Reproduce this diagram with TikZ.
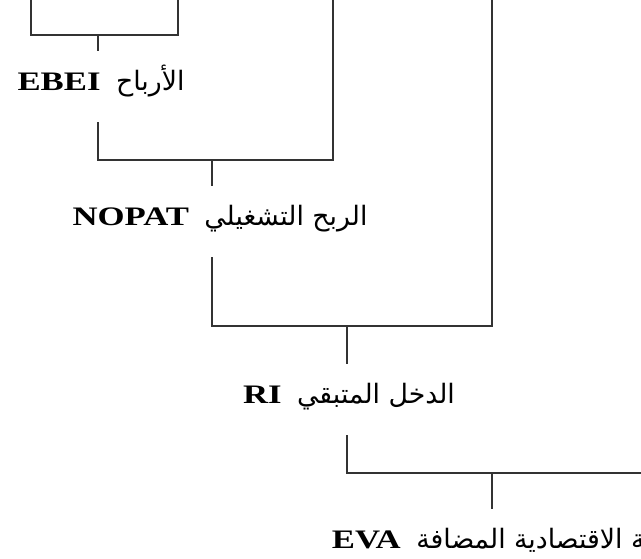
\documentclass[tikz,border=0pt]{standalone}
\usepackage{fontspec}
\setmainfont{Liberation Serif}[FakeStretch=1.3]
\newfontfamily\arabicfont[Script=Arabic]{DejaVu Sans}
\TeXXeTstate=1
\newcommand{\artxt}[1]{\hspace{11pt}{\arabicfont\mdseries\fontsize{19}{22}\selectfont\beginR #1\endR}}
\tikzset{
	bar/.style={black!80, line width=1.1pt},
	lbl/.style={inner xsep=0pt, inner ysep=0pt, text height=0.975cm, text depth=0.8cm, anchor=base, font=\fontsize{19}{22}\selectfont\bfseries}
}

\begin{document}
\begin{tikzpicture}[x=0.025cm, y=-0.025cm]
				\useasboundingbox (0,0) rectangle (641,559);
				% Free ends
				\coordinate (t1) at (31,0);
				\coordinate (t2) at (178,0);
				\coordinate (t3) at (333,0);
				\coordinate (t4) at (492,0);
				\coordinate (t5) at (641,473);
				% Joints
				\coordinate (j1) at (98,35);
				\coordinate (j2) at (212,160);
				\coordinate (j3) at (347,326);
				\coordinate (j4) at (492,473);
				% Labels
				\node[lbl] (ebei) at (101,90) {EBEI\artxt{الأرباح}};
				\node[lbl] (nopat) at (220,225) {NOPAT\artxt{الربح التشغيلي}};
				\node[lbl] (ri) at (349,403) {RI\artxt{الدخل المتبقي}};
				\node[lbl] (eva) at (515,548) {EVA\artxt{القيمة الاقتصادية المضافة}};
				% Brackets
				\draw[bar] (t1) |- (j1) -| (t2);
				\draw[bar] (j1) -- (j1 |- ebei.north);
				\draw[bar] (j1 |- ebei.south) |- (j2) -| (t3);
				\draw[bar] (j2) -- (j2 |- nopat.north);
				\draw[bar] (j2 |- nopat.south) |- (j3) -| (t4);
				\draw[bar] (j3) -- (j3 |- ri.north);
				\draw[bar] (j3 |- ri.south) |- (j4) -- (t5);
				\draw[bar] (j4) -- (j4 |- eva.north);
\end{tikzpicture}
\end{document}
